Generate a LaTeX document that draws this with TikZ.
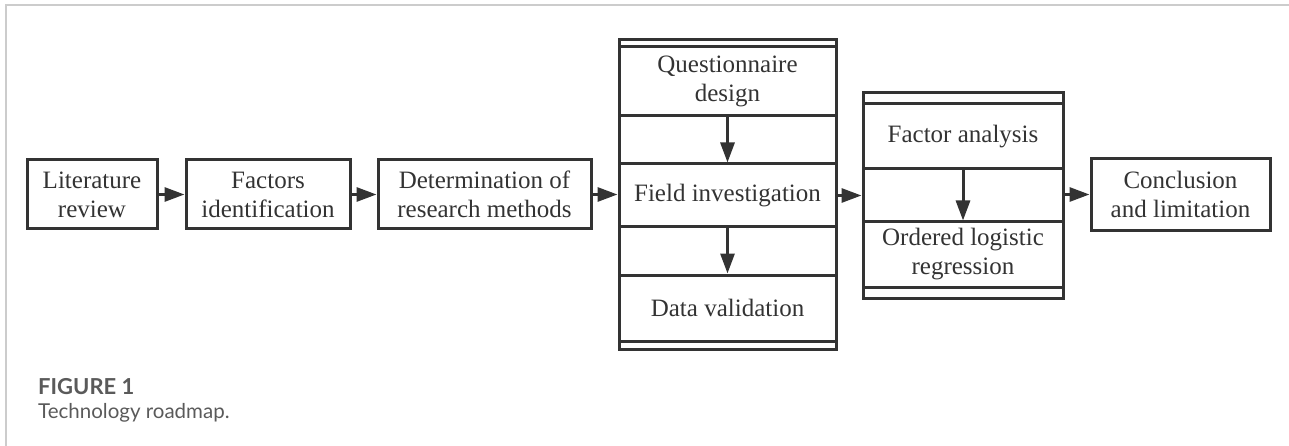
\documentclass[tikz,border=0pt]{standalone}
\usepackage{fontspec}
\setmainfont{Liberation Serif}
\newfontfamily\capfont{Lato}
\usepackage{tikz}
\usetikzlibrary{arrows.meta}
\definecolor{ink}{HTML}{333333}
\definecolor{capgray}{HTML}{5A5A5A}
\definecolor{rule}{HTML}{CCCCCC}

\begin{document}
\begin{tikzpicture}[x=1pt,y=-1pt]
      \tikzset { stage/.style = { shape=rectangle,draw=ink,line width=3pt,text=ink,align=center,
                                  inner sep=0pt,font=\fontsize{25}{29}\selectfont } }
      \tikzset { column/.style = { shape=rectangle,draw=ink,line width=3pt } }
      \tikzset { edge/.style = { -{Triangle[length=20pt,width=14pt]},draw=ink,line width=3pt } }

      \useasboundingbox (0,0) rectangle (1289,446);
      \draw[rule,line width=1.5pt] (6,446) -- (6,5) -- (1289,5);

      \node[stage,minimum width=130,minimum height=69] (lit) at (92,194.5) {Literature\\review};
      \node[stage,minimum width=164,minimum height=69] (fac) at (268,194.5) {Factors\\identification};
      \node[stage,minimum width=213,minimum height=69] (det) at (484.5,194.5) {Determination of\\research methods};

      \node[column,minimum width=217,minimum height=309] (colA) at (727.5,194.5) {};
      \node[stage,minimum width=217,minimum height=69] (qd) at (727.5,81.5) {Questionnaire\\design};
      \node[stage,minimum width=217,minimum height=63] (fi) at (727.5,195.5) {Field investigation};
      \node[stage,minimum width=217,minimum height=66] (dv) at (727.5,308) {Data validation};

      \node[column,minimum width=200,minimum height=205] (colB) at (963,195.5) {};
      \node[stage,minimum width=200,minimum height=65] (fa) at (963,136.5) {Factor analysis};
      \node[stage,minimum width=200,minimum height=65] (olr) at (963,254.5) {Ordered logistic\\regression};

      \node[stage,minimum width=179,minimum height=72] (con) at (1180.5,194.5) {Conclusion\\and limitation};

      \draw[edge] (lit) to (fac);
      \draw[edge] (fac) to (det);
      \draw[edge] (det) to (colA);
      \draw[edge] (qd) to (fi);
      \draw[edge] (fi) to (dv);
      \draw[edge] (colA.east |- fi.east) to (colB.west |- fi.east);
      \draw[edge] (fa) to (olr);
      \draw[edge] (colB.east |- con.west) to (con.west);

      \node[anchor=base west,inner sep=0pt,text=capgray,font=\capfont\bfseries\fontsize{22}{26}\selectfont] (fig) at (38,394) {FIGURE 1};
      \node[anchor=base west,inner sep=0pt,text=capgray,font=\capfont\fontsize{20.5}{24}\selectfont] (cap) at (38,418) {Technology roadmap.};

    \end{tikzpicture}
\end{document}
